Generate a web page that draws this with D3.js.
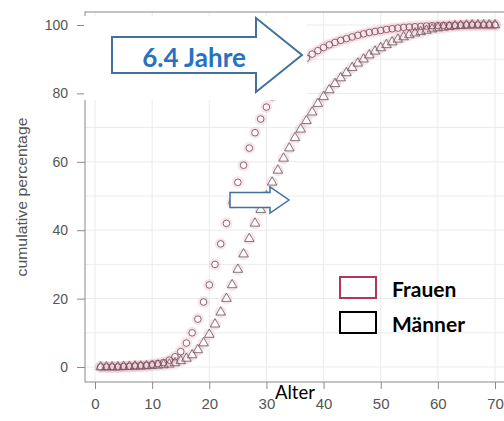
<!DOCTYPE html>
<html>
<head>
<meta charset="utf-8">
<script src="https://cdn.jsdelivr.net/npm/d3@7"></script>
<style>
  body { margin: 0; background: #fff; }
  svg { display: block; }
</style>
</head>
<body>
<div id="chart"></div>
<script>
// Alter (Jahre) 1..70
var ages = d3.range(1, 71);
// cumulative percentage, Frauen (circles)
var frauen = [0, 0, 0, 0, 0.1, 0.2, 0.3, 0.4, 0.5, 0.7,
              1, 1.3, 2, 3, 4.5, 7, 10, 14, 19, 24,
              30, 36, 42, 48, 54, 59, 64, 68.5, 72.5, 76,
              79, 81.5, 83.8, 85.8, 87.5, 89, 90.3, 91.5, 92.5, 93.4,
              94.2, 94.9, 95.5, 96, 96.5, 97, 97.4, 97.8, 98.1, 98.4,
              98.7, 98.9, 99.1, 99.3, 99.4, 99.5, 99.6, 99.7, 99.8, 99.85,
              99.9, 99.9, 99.9, 99.95, 100, 100, 100, 100, 100, 100];
// cumulative percentage, Maenner (triangles)
var maenner = [0, 0, 0, 0, 0.1, 0.1, 0.2, 0.2, 0.3, 0.4,
               0.5, 0.6, 0.8, 1.2, 1.8, 2.5, 3.5, 5, 7, 9.5,
               12.5, 16, 20, 24, 28.5, 33, 37.5, 42, 46, 50,
               54, 57.5, 61, 64, 67, 69.5, 72, 74.5, 77, 79,
               81, 82.8, 84.5, 86, 87.5, 88.8, 90, 91.2, 92.3, 93.3,
               94.2, 95, 95.8, 96.5, 97.1, 97.6, 98, 98.4, 98.8, 99.1,
               99.3, 99.5, 99.7, 99.8, 99.9, 100, 100, 100, 100, 100];
var xTicks = [0, 10, 20, 30, 40, 50, 60, 70];
var yTicks = [0, 20, 40, 60, 80, 100];
var gridX = d3.range(0, 71, 10);
var gridY = d3.range(0, 101, 10);

var width = 504, height = 421;

var svg = d3.select('#chart').append('svg')
    .attr('width', width)
    .attr('height', height);

var x = d3.scaleLinear().domain([0, 70]).range([95, 495]);
var y = d3.scaleLinear().domain([0, 100]).range([367, 25]);

// plot box edges (R style, 4% padding)
var box = { left: 85, right: 506, top: 12, bottom: 382 };

// faint grid
svg.append('g').selectAll('line.gx')
    .data(gridX).enter().append('line')
    .attr('x1', function(d) { return x(d); })
    .attr('x2', function(d) { return x(d); })
    .attr('y1', box.top).attr('y2', box.bottom)
    .style('stroke', '#ebebeb').style('stroke-width', 1);
svg.append('g').selectAll('line.gy')
    .data(gridY).enter().append('line')
    .attr('x1', box.left).attr('x2', box.right)
    .attr('y1', function(d) { return y(d); })
    .attr('y2', function(d) { return y(d); })
    .style('stroke', '#ebebeb').style('stroke-width', 1);

// box
svg.append('rect')
    .attr('x', box.left).attr('y', box.top)
    .attr('width', box.right - box.left).attr('height', box.bottom - box.top)
    .style('fill', 'none').style('stroke', '#8a8a8a').style('stroke-width', 1);

// axes
var xAxis = d3.axisBottom(x).tickValues(xTicks).tickSize(7).tickPadding(9);
var gx = svg.append('g').attr('transform', 'translate(0,' + box.bottom + ')').call(xAxis);
gx.select('.domain').remove();
gx.selectAll('line').style('stroke', '#8a8a8a');
gx.selectAll('text').style('font-family', 'Liberation Sans, sans-serif')
    .style('font-size', '15px').style('fill', '#555');

var yAxis = d3.axisLeft(y).tickValues(yTicks).tickSize(8).tickPadding(9);
var gy = svg.append('g').attr('transform', 'translate(' + box.left + ',0)').call(yAxis);
gy.select('.domain').remove();
gy.selectAll('line').style('stroke', '#8a8a8a');
gy.selectAll('text').style('font-family', 'Liberation Sans, sans-serif')
    .style('font-size', '14px').style('fill', '#555');

svg.append('text')
    .attr('transform', 'translate(27,197) rotate(-90)')
    .attr('text-anchor', 'middle')
    .attr('textLength', 159).attr('lengthAdjust', 'spacingAndGlyphs')
    .style('font-family', 'Liberation Sans, sans-serif')
    .style('font-size', '15px').style('fill', '#555')
    .text('cumulative percentage');

// points
var fData = ages.map(function(a, i) { return { age: a, v: frauen[i] }; });
var mData = ages.map(function(a, i) { return { age: a, v: maenner[i] }; });

var tri = d3.symbol().type(d3.symbolTriangle).size(40);

// soft pink halo like the original render
svg.append('g').selectAll('circle').data(fData.concat(mData)).enter().append('circle')
    .attr('cx', function(d) { return x(d.age); })
    .attr('cy', function(d) { return y(d.v); })
    .attr('r', 4.5)
    .style('fill', 'none').style('stroke', '#e9a9bb').style('stroke-width', 3).style('opacity', 0.3);

svg.append('g').selectAll('path').data(mData).enter().append('path')
    .attr('d', tri)
    .attr('transform', function(d) { return 'translate(' + x(d.age) + ',' + y(d.v) + ')'; })
    .style('fill', 'none').style('stroke', '#6f6468').style('stroke-width', 1).style('opacity', 0.85);

svg.append('g').selectAll('circle').data(fData).enter().append('circle')
    .attr('cx', function(d) { return x(d.age); })
    .attr('cy', function(d) { return y(d.v); })
    .attr('r', 3.3)
    .style('fill', 'none').style('stroke', '#7f4e5d').style('stroke-width', 1).style('opacity', 0.85);

// white cover box with the big arrow
svg.append('rect')
    .attr('x', 84).attr('y', 16).attr('width', 223).attr('height', 84)
    .style('fill', '#fff');

var arrowBlue = '#41719c';
function arrowPath(x0, x1, xt, yc, hs, hh) {
    // x0: shaft start, x1: head base, xt: tip, hs: half shaft, hh: half head
    return 'M' + x0 + ',' + (yc - hs) + 'L' + x1 + ',' + (yc - hs) + 'L' + x1 + ',' + (yc - hh) +
           'L' + xt + ',' + yc + 'L' + x1 + ',' + (yc + hh) + 'L' + x1 + ',' + (yc + hs) +
           'L' + x0 + ',' + (yc + hs) + 'Z';
}
svg.append('path')
    .attr('d', arrowPath(112, 256, 302, 55, 18, 37))
    .style('fill', '#fff').style('stroke', arrowBlue).style('stroke-width', 2);
svg.append('text')
    .attr('x', 194).attr('y', 67)
    .attr('text-anchor', 'middle')
    .style('font-family', 'Lato, sans-serif').style('font-weight', 'bold')
    .style('font-size', '26px').style('fill', '#2672c0')
    .text('6.4 Jahre');

// small arrow
svg.append('path')
    .attr('d', arrowPath(230, 270, 289, 200, 7.5, 13))
    .style('fill', '#fff').style('stroke', arrowBlue).style('stroke-width', 1.5);

// legend
var legend = [{ name: 'Frauen', color: '#b0385a' }, { name: 'Männer', color: '#000' }];
var lg = svg.append('g').selectAll('g').data(legend).enter().append('g')
    .attr('transform', function(d, i) { return 'translate(340,' + (277 + i * 35) + ')'; });
lg.append('rect').attr('width', 36).attr('height', 21)
    .style('fill', '#fff')
    .style('stroke', function(d) { return d.color; }).style('stroke-width', 2);
lg.append('text').attr('x', 52).attr('y', 20)
    .style('font-family', 'Lato, sans-serif').style('font-weight', 'bold')
    .style('font-size', '21px').style('fill', '#000')
    .text(function(d) { return d.name; });

// x title
svg.append('text')
    .attr('x', 275).attr('y', 399)
    .style('font-family', 'Lato, sans-serif')
    .style('font-size', '18.5px').style('fill', '#000')
    .text('Alter');
</script>
</body>
</html>
